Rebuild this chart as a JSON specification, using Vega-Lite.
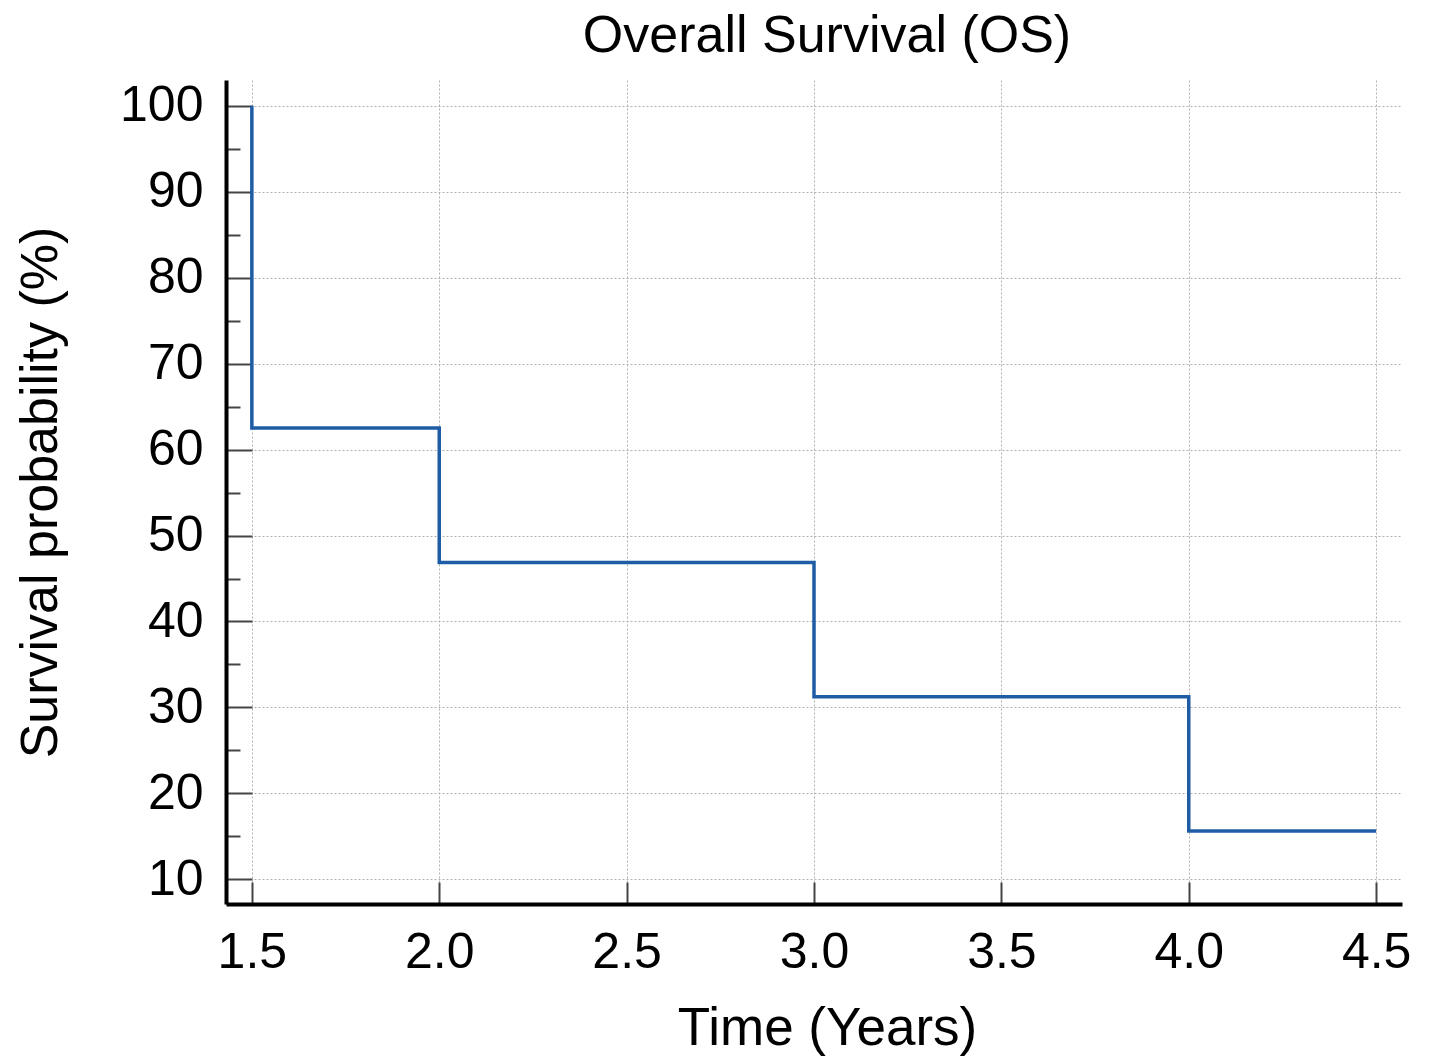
{
  "$schema": "https://vega.github.io/schema/vega-lite/v6.json",
  "width": 1176,
  "height": 824,
  "autosize": {"type": "none"},
  "padding": {"left": 226, "top": 80, "right": 28, "bottom": 158},
  "background": "white",
  "title": {
    "text": "Overall Survival (OS)",
    "font": "Liberation Sans",
    "fontSize": 52,
    "fontWeight": "normal",
    "color": "#000000",
    "anchor": "middle",
    "offset": 17,
    "dx": 13
  },
  "data": {
    "values": [
      {"time": 1.5, "survival": 100},
      {"time": 2.0, "survival": 62.5},
      {"time": 3.0, "survival": 46.875},
      {"time": 4.0, "survival": 31.25},
      {"time": 4.5, "survival": 15.625}
    ]
  },
  "config": {
    "view": {"stroke": null},
    "axis": {
      "labelFont": "Liberation Sans",
      "titleFont": "Liberation Sans",
      "labelColor": "#000000",
      "titleColor": "#000000",
      "titleFontWeight": "normal",
      "domainColor": "#000000",
      "domainWidth": 4,
      "tickColor": "#444444",
      "tickWidth": 2,
      "gridColor": "#b0b0b0",
      "gridDash": [2, 2],
      "gridWidth": 1
    }
  },
  "mark": {"type": "line", "interpolate": "step-before", "color": "#1f5ca6", "strokeWidth": 3.5, "clip": true},
  "encoding": {
    "x": {
      "field": "time",
      "type": "quantitative",
      "scale": {"domain": [1.431, 4.569], "nice": false, "zero": false},
      "axis": {
        "title": "Time (Years)",
        "values": [1.5, 2.0, 2.5, 3.0, 3.5, 4.0, 4.5],
        "format": ".1f",
        "labelFontSize": 50,
        "titleFontSize": 53,
        "tickSize": -22,
        "labelPadding": 45,
        "titlePadding": 25,
        "titleX": 601,
        "labelFlush": false
      }
    },
    "y": {
      "field": "survival",
      "type": "quantitative",
      "scale": {"domain": [7.13, 103], "nice": false, "zero": false},
      "axis": {
        "title": "Survival probability (%)",
        "values": [10, 15, 20, 25, 30, 35, 40, 45, 50, 55, 60, 65, 70, 75, 80, 85, 90, 95, 100],
        "labelExpr": "datum.value % 10 === 0 ? datum.label : ''",
        "tickSize": {"condition": {"test": "datum.value % 10 === 0", "value": -26}, "value": -14},
        "gridOpacity": {"condition": {"test": "datum.value % 10 === 0", "value": 1}, "value": 0},
        "labelFontSize": 50,
        "titleFontSize": 52,
        "labelPadding": 49,
        "titlePadding": 52,
        "labelFlush": false
      }
    }
  }
}
